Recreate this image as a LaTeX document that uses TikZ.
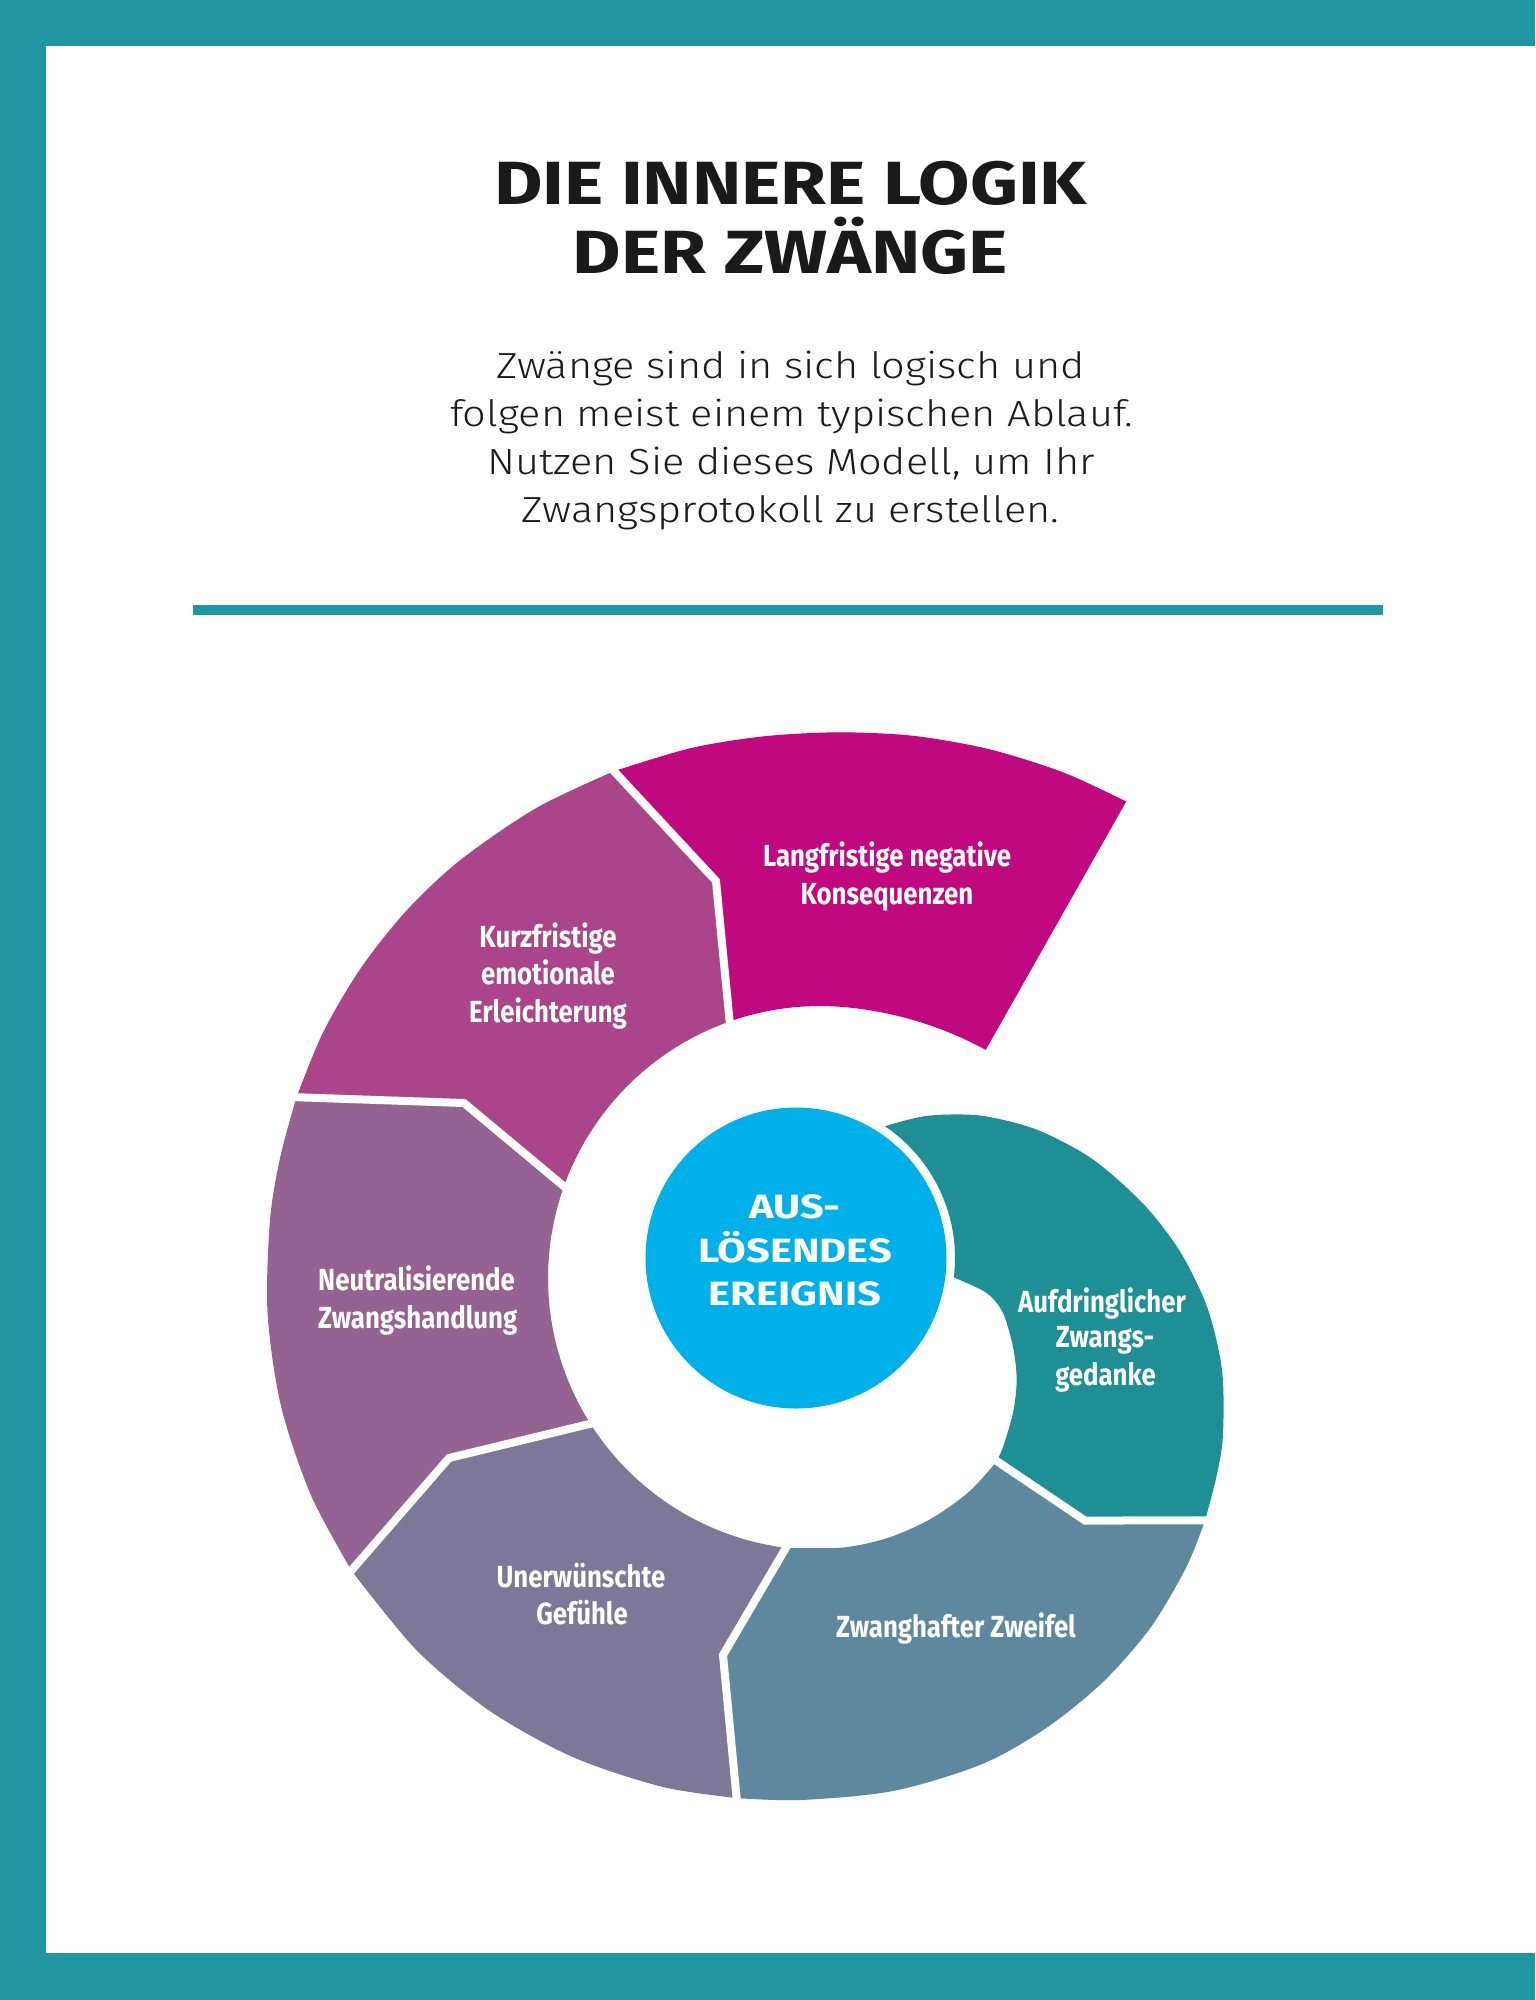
\documentclass[tikz,border=0pt]{standalone}
\usepackage{fontspec}
\usepackage{graphicx}
\setmainfont{Fira Sans}
\newfontfamily\lightfont{Fira Sans Light}
\definecolor{bordercol}{HTML}{2096A0}
\definecolor{inkcol}{HTML}{1A1A1A}
\definecolor{cLang}{HTML}{C0097E}
\definecolor{cKurz}{HTML}{AA4589}
\definecolor{cNeut}{HTML}{956392}
\definecolor{cUner}{HTML}{7D7897}
\definecolor{cZwei}{HTML}{5E889D}
\definecolor{cAufd}{HTML}{1F8F96}
\definecolor{cEvent}{HTML}{00B1E9}
\newcommand\titlefnt{\bfseries\fontsize{61}{69}\selectfont}
\newcommand\subfnt{\lightfont\fontsize{36.3}{48}\selectfont}
\newcommand\labfnt{\bfseries\fontsize{30.5}{36}\selectfont}
\newcommand\evfnt{\bfseries\fontsize{33.7}{40}\selectfont}
\newlength\mywd
\begin{document}
\settowidth\mywd{\titlefnt DIE INNERE LOGIK}\pgfmathsetmacro\facT{593/\mywd}%
\settowidth\mywd{\subfnt folgen meist einem typischen Ablauf.}\pgfmathsetmacro\facS{683/\mywd}%
\settowidth\mywd{\labfnt Langfristige negative}\pgfmathsetmacro\facL{248/\mywd}%
\settowidth\mywd{\evfnt LÖSENDES}\pgfmathsetmacro\facE{194/\mywd}%
\begin{tikzpicture}[x=1pt,y=-1pt,
  sepline/.style={draw=white,line width=8pt,shorten <=-12pt,shorten >=-12pt},
  titlestyle/.style={text=inkcol,font=\titlefnt,anchor=base,inner sep=0pt},
  substyle/.style={text=inkcol,font=\subfnt,anchor=base,inner sep=0pt},
  lab/.style={text=white,font=\labfnt,anchor=base,inner sep=0pt},
  evtext/.style={text=white,font=\evfnt,anchor=base,inner sep=0pt},
  declare function={rin(\t)=272+(\t>365)*10*((\t-365)/31)^2;}]
\useasboundingbox (0,0) rectangle (1535,2000);
\fill[white] (0,0) rectangle (1535,2000);
% frame
\fill[bordercol] (0,0) rectangle (1535,46);
\fill[bordercol] (0,0) rectangle (46,2000);
\fill[bordercol] (0,1953) rectangle (1535,2000);
% title and intro
\node[titlestyle] (title1) at (790.5,204.5) {\scalebox{\facT}[1]{DIE INNERE LOGIK}};
\node[titlestyle] (title2) at (790.5,273) {\scalebox{\facT}[1]{DER ZWÄNGE}};
\node[substyle] (sub1) at (790.5,378.5) {\scalebox{\facS}[1]{Zwänge sind in sich logisch und}};
\node[substyle] (sub2) at (791.5,426.5) {\scalebox{\facS}[1]{folgen meist einem typischen Ablauf.}};
\node[substyle] (sub3) at (791,474.5) {\scalebox{\facS}[1]{Nutzen Sie dieses Modell, um Ihr}};
\node[substyle] (sub4) at (790.5,522.5) {\scalebox{\facS}[1]{Zwangsprotokoll zu erstellen.}};
\fill[bordercol] (193,605) rectangle (1383,615);
% outer edge of the spiral (polar about 801,1266; angle clockwise from top)
\begin{scope}[shift={(801,1266)}]
  \foreach \pp/\rr in {40/196,50/234,60/272.5,70/311,80/349,88/380,96/409,104/434,112/455,117/466,
      128/489,136/503,144/514,152/523,160/530,170/533,180/534,195/539,205/541.5,215/543,225/543.5,
      245/541,255/538.5,265/535.5,275/533,282/532,296/532,304/531.5,312/531,320/530,330/529,
      348/529.5,356/531,364/535,372/542,380/550,388/559}
    \coordinate (q\pp) at ({\pp-90}:{\rr});
  \coordinate (O1) at ({122.2-90}:477.5);
  \coordinate (O2) at ({186.9-90}:536);
  \coordinate (O3) at ({235.9-90}:543);
  \coordinate (O4) at ({288.5-90}:532);
  \coordinate (O5) at ({339.3-90}:529);
  \coordinate (Oe) at ({395-90}:567);
\end{scope}
% inner edge (hole, polar about 820,1278)
\begin{scope}[shift={(820,1278)}]
  \coordinate (I1) at ({136-90}:254.6);
  \coordinate (I2) at ({187.2-90}:272);
  \coordinate (I3) at ({237.6-90}:272);
  \coordinate (I4) at ({289.7-90}:272);
  \coordinate (I5) at ({340.6-90}:272);
  \coordinate (Ie) at ({396-90}:282);
  \foreach \pp/\rr in {145/260.5,155/265,165/268.5,175/270.5}
    \coordinate (h\pp) at ({\pp-90}:{\rr});
\end{scope}
\coordinate (T) at (884.9,1126.2);
\coordinate (hS) at (953.8,1277.4);
\coordinate (B1) at (1085,1520.5);
\coordinate (B2) at (723,1655);
\coordinate (B3) at (449,1458);
\coordinate (B4) at (464,1103);
\coordinate (B5) at (716,881);
% segments
\fill[cAufd] plot[smooth] coordinates {(T) (q40) (q50) (q60) (q70) (q80) (q88) (q96) (q104) (q112) (q117) (O1)}
  -- (B1) -- (I1)
  -- plot[smooth] coordinates {(I1) (1003,1447) (1013,1413) (1016.7,1380) (1013,1347) (1003,1313) (986.7,1293) (hS)}
  -- plot[domain=7:-56,samples=30] ({796+159*cos(\x)},{1258+159*sin(\x)}) -- cycle;
\fill[cZwei] plot[smooth] coordinates {(O1) (q128) (q136) (q144) (q152) (q160) (q170) (q180) (O2)}
  -- (B2) -- (I2)
  -- plot[smooth] coordinates {(I2) (h175) (h165) (h155) (h145) (I1)} -- (B1) -- cycle;
\fill[cUner] plot[smooth] coordinates {(O2) (q195) (q205) (q215) (q225) (O3)}
  -- (B3) -- (I3)
  -- plot[domain=237.6:187.2,samples=25] ({820+272*sin(\x)},{1278-272*cos(\x)}) -- (B2) -- cycle;
\fill[cNeut] plot[smooth] coordinates {(O3) (q245) (q255) (q265) (q275) (q282) (O4)}
  -- (B4) -- (I4)
  -- plot[domain=289.7:237.6,samples=25] ({820+272*sin(\x)},{1278-272*cos(\x)}) -- (B3) -- cycle;
\fill[cKurz] plot[smooth] coordinates {(O4) (q296) (q304) (q312) (q320) (q330) (O5)}
  -- (B5) -- (I5)
  -- plot[domain=340.6:289.7,samples=25] ({820+272*sin(\x)},{1278-272*cos(\x)}) -- (B4) -- cycle;
\fill[cLang] plot[smooth] coordinates {(O5) (q348) (q356) (q364) (q372) (q380) (q388) (Oe)}
  -- (Ie)
  -- plot[domain=396:340.6,samples=40] ({820+rin(\x)*sin(\x)},{1278-rin(\x)*cos(\x)})
  -- (B5) -- cycle;
% white separators
\draw[sepline] (I1) -- (B1) -- (O1);
\draw[sepline] (I2) -- (B2) -- (O2);
\draw[sepline] (I3) -- (B3) -- (O3);
\draw[sepline] (I4) -- (B4) -- (O4);
\draw[sepline] (I5) -- (B5) -- (O5);
% centre
\node[circle,fill=cEvent,minimum size=301pt,inner sep=0pt] (event) at (796,1258) {};
\node[evtext] (ev1) at (795,1218.5) {\scalebox{\facE}[1]{AUS-}};
\node[evtext] (ev2) at (795,1262) {\scalebox{\facE}[1]{LÖSENDES}};
\node[evtext] (ev3) at (795,1305) {\scalebox{\facE}[1]{EREIGNIS}};
% labels
\node[lab] (lang1) at (887,866) {\scalebox{\facL}[1]{Langfristige negative}};
\node[lab] (lang2) at (887,904) {\scalebox{\facL}[1]{Konsequenzen}};
\node[lab] (kurz1) at (548,947) {\scalebox{\facL}[1]{Kurzfristige}};
\node[lab] (kurz2) at (548,984.5) {\scalebox{\facL}[1]{emotionale}};
\node[lab] (kurz3) at (548,1022) {\scalebox{\facL}[1]{Erleichterung}};
\node[lab,anchor=base west] (neut1) at (318,1290.5) {\scalebox{\facL}[1]{Neutralisierende}};
\node[lab,anchor=base west] (neut2) at (318,1328) {\scalebox{\facL}[1]{Zwangshandlung}};
\node[lab] (uner1) at (581,1587) {\scalebox{\facL}[1]{Unerwünschte}};
\node[lab] (uner2) at (582,1624.5) {\scalebox{\facL}[1]{Gefühle}};
\node[lab] (zwei1) at (956,1637) {\scalebox{\facL}[1]{Zwanghafter Zweifel}};
\node[lab] (aufd1) at (1102,1312) {\scalebox{\facL}[1]{Aufdringlicher}};
\node[lab] (aufd2) at (1105,1347.5) {\scalebox{\facL}[1]{Zwangs-}};
\node[lab] (aufd3) at (1105.5,1385) {\scalebox{\facL}[1]{gedanke}};
\end{tikzpicture}
\end{document}
